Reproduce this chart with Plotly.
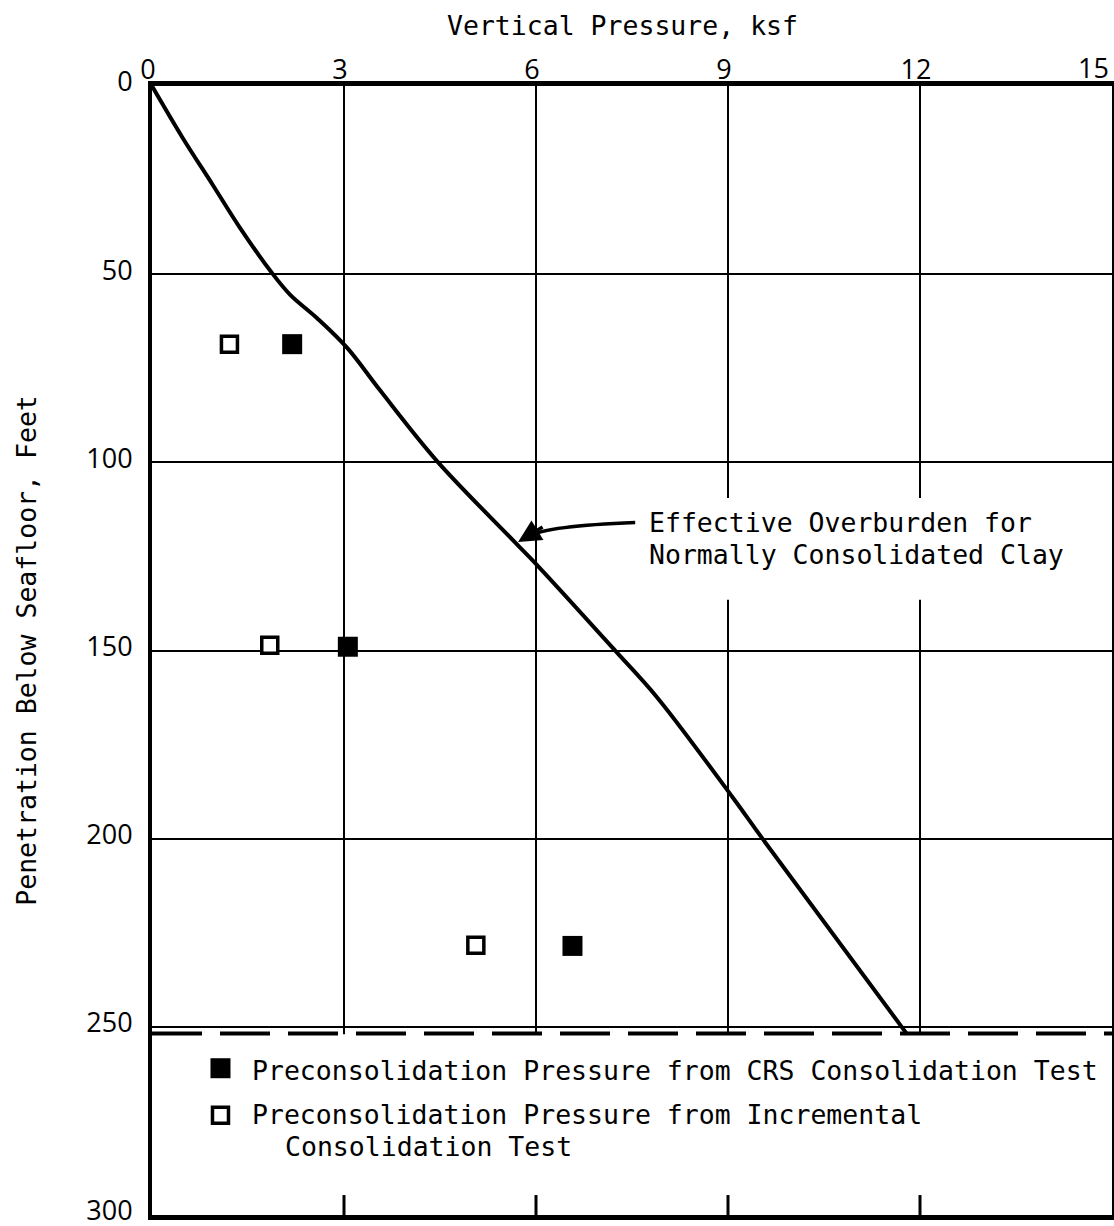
import plotly.graph_objects as go

# ---------------- data ----------------
curve_pressure = [0.0, 0.48, 0.95, 1.375, 1.875, 2.16, 2.58, 3.05, 3.56, 4.45, 5.68, 6.06, 7.23, 7.89, 9.08, 9.53, 11.8]
curve_depth = [0.0, 13.8, 26.3, 37.7, 49.7, 55.5, 61.7, 69.6, 80.8, 99.6, 121.4, 128.1, 149.9, 162.4, 189.2, 199.8, 252.0]

crs_pressure = [2.19, 3.06, 6.57]
crs_depth = [68.6, 149.0, 228.5]

incr_pressure = [1.21, 1.84, 5.06]
incr_depth = [68.6, 148.6, 228.3]

x_ticks = [0, 3, 6, 9, 12, 15]
x_ticktext = ["0", "3", "6", "9", "12", "15"]
y_ticks = [0, 50, 100, 150, 200, 250, 300]
bottom_ticks = [3, 6, 9, 12]

x_title = "Vertical Pressure, ksf"
y_title = "Penetration Below Seafloor, Feet"
curve_label = ["Effective Overburden for", "Normally Consolidated Clay"]
legend_lines = ["Preconsolidation Pressure from CRS Consolidation Test",
                "Preconsolidation Pressure from Incremental",
                "Consolidation Test"]

# ---------------- figure ----------------
MONO = "DejaVu Sans Mono"
TICKF = "Open Sans"
BLACK = "black"
TICKSIZE = 27

fig = go.Figure()

fig.add_trace(go.Scatter(
    x=curve_pressure, y=curve_depth, mode="lines",
    line=dict(color=BLACK, width=4, shape="spline", smoothing=1.0),
    showlegend=False, hoverinfo="skip"))

fig.add_trace(go.Scatter(
    x=crs_pressure, y=crs_depth, mode="markers",
    marker=dict(symbol="square", size=20, color=BLACK, line=dict(width=0)),
    showlegend=False))

fig.add_trace(go.Scatter(
    x=incr_pressure, y=incr_depth, mode="markers",
    marker=dict(symbol="square", size=16, color="white", line=dict(width=3.5, color=BLACK)),
    showlegend=False))

# legend key swatches (inside the lower box)
fig.add_trace(go.Scatter(
    x=[1.07], y=[261.0], mode="markers",
    marker=dict(symbol="square", size=20, color=BLACK, line=dict(width=0)),
    showlegend=False, hoverinfo="skip"))
fig.add_trace(go.Scatter(
    x=[1.07], y=[273.5], mode="markers",
    marker=dict(symbol="square", size=16, color="white", line=dict(width=3.5, color=BLACK)),
    showlegend=False, hoverinfo="skip"))

shapes = []
# white legend box hides gridlines below the dashed line
shapes.append(dict(type="rect", xref="x", yref="y", x0=0, x1=15, y0=252, y1=300,
                   fillcolor="white", line=dict(width=0), layer="between"))
# white break in gridlines behind curve label
shapes.append(dict(type="rect", xref="x", yref="y", x0=7.6, x1=14.6, y0=109.5, y1=136.5,
                   fillcolor="white", line=dict(width=0), layer="between"))
# dashed separator
shapes.append(dict(type="line", xref="x", yref="y", x0=0, x1=15, y0=251.8, y1=251.8,
                   line=dict(color=BLACK, width=4, dash="50px,18px"), layer="above"))
# inner ticks at the bottom
for t in bottom_ticks:
    shapes.append(dict(type="line", xref="x", yref="y", x0=t, x1=t, y0=300, y1=294.7,
                       line=dict(color=BLACK, width=3), layer="above"))
# curved arrow shaft
shapes.append(dict(type="path", xref="x", yref="y",
                   path="M 7.55,116.0 Q 6.17,116.9 5.9,119.6",
                   line=dict(color=BLACK, width=3.5), layer="above"))
fig.update_layout(shapes=shapes)

annotations = []
# arrow head
annotations.append(dict(x=5.72, y=121.2, xref="x", yref="y", text="", showarrow=True,
                        ax=26, ay=-16, arrowhead=2, arrowsize=1.3, arrowwidth=3.5,
                        arrowcolor=BLACK))
# curve label
annotations.append(dict(x=7.73, y=116.1, xref="x", yref="y", text=curve_label[0],
                        showarrow=False, xanchor="left", yanchor="middle",
                        font=dict(family=MONO, size=26.5, color=BLACK)))
annotations.append(dict(x=7.73, y=124.4, xref="x", yref="y", text=curve_label[1],
                        showarrow=False, xanchor="left", yanchor="middle",
                        font=dict(family=MONO, size=26.5, color=BLACK)))
# legend texts
annotations.append(dict(x=1.53, y=261.5, xref="x", yref="y", text=legend_lines[0],
                        showarrow=False, xanchor="left", yanchor="middle",
                        font=dict(family=MONO, size=26.5, color=BLACK)))
annotations.append(dict(x=1.53, y=273.4, xref="x", yref="y", text=legend_lines[1],
                        showarrow=False, xanchor="left", yanchor="middle",
                        font=dict(family=MONO, size=26.5, color=BLACK)))
annotations.append(dict(x=2.05, y=281.9, xref="x", yref="y", text=legend_lines[2],
                        showarrow=False, xanchor="left", yanchor="middle",
                        font=dict(family=MONO, size=26.5, color=BLACK)))
# axis titles
annotations.append(dict(x=0.4896, y=1.054, xref="paper", yref="paper", text=x_title,
                        showarrow=False, xanchor="center", yanchor="middle",
                        font=dict(family=MONO, size=26.5, color=BLACK)))
annotations.append(dict(x=-0.131, y=0.5, xref="paper", yref="paper", text=y_title,
                        showarrow=False, xanchor="center", yanchor="middle", textangle=-90,
                        font=dict(family=MONO, size=26.5, color=BLACK)))
# last x tick label, kept inside the page edge
annotations.append(dict(x=1.0, y=1.0, xref="paper", yref="paper", text=x_ticktext[-1],
                        showarrow=False, xanchor="right", yanchor="bottom", xshift=-1, yshift=-2,
                        font=dict(family=TICKF, size=TICKSIZE, color=BLACK)))
fig.update_layout(annotations=annotations)

fig.update_xaxes(
    range=[0, 15], side="top", tickmode="array", tickvals=x_ticks[:-1], ticktext=x_ticktext[:-1],
    showgrid=True, gridcolor=BLACK, gridwidth=2, zeroline=False,
    showline=True, linecolor=BLACK, linewidth=5, mirror=True,
    ticks="", ticklabelshift=-4, ticklabelstandoff=-9, ticklabeloverflow="allow",
    tickfont=dict(family=TICKF, size=TICKSIZE, color=BLACK), fixedrange=True)

fig.update_yaxes(
    range=[300, 0], tickmode="array", tickvals=y_ticks,
    showgrid=True, gridcolor=BLACK, gridwidth=2, zeroline=False,
    showline=True, linecolor=BLACK, linewidth=4, mirror=True,
    ticks="", ticklabelstandoff=10, ticklabelshift=4, ticklabeloverflow="allow",
    tickfont=dict(family=TICKF, size=TICKSIZE, color=BLACK), fixedrange=True)

fig.update_layout(
    width=1114, height=1226,
    margin=dict(l=152, r=2, t=86, b=11, autoexpand=False),
    paper_bgcolor="white", plot_bgcolor="white",
    showlegend=False,
)

fig.write_html("out.html", include_plotlyjs=True, config={"displayModeBar": False})
